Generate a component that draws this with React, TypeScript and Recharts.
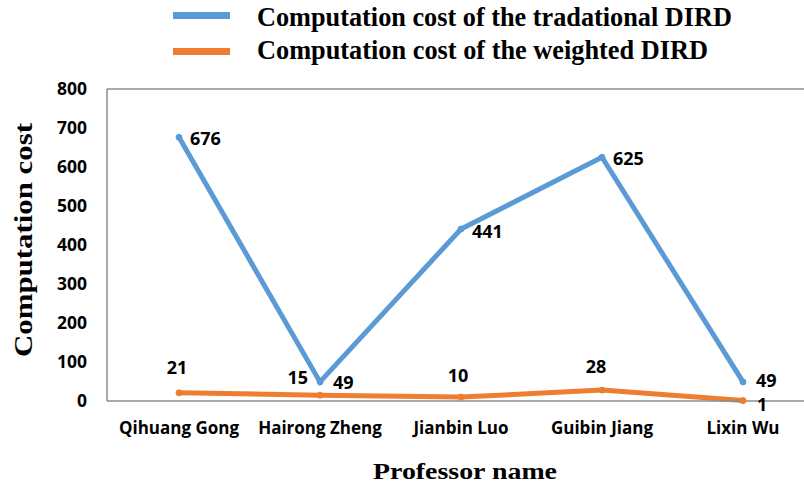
import React from 'react';
import { LineChart, Line, XAxis, YAxis, ReferenceLine } from 'recharts';

const professors = ['Qihuang Gong', 'Hairong Zheng', 'Jianbin Luo', 'Guibin Jiang', 'Lixin Wu'];
const traditionalCost = [676, 49, 441, 625, 49];
const weightedCost = [21, 15, 10, 28, 1];
const yTicks = [0, 100, 200, 300, 400, 500, 600, 700, 800];

const data = professors.map((name, i) => ({
  name,
  traditional: traditionalCost[i],
  weighted: weightedCost[i],
}));

const BLUE = '#5b9bd5';
const ORANGE = '#ed7d31';
const SANS = '"Open Sans", Lato, sans-serif';
const SERIF = '"Liberation Serif", "DejaVu Serif", serif';

// label nudges per point (dx, dy to baseline, anchor)
const blueLabelPos = [
  [11, 8, 'start'], [13, 7, 'start'], [11, 9, 'start'], [11, 8, 'start'], [13, 5, 'start'],
];
const orangeLabelPos = [
  [-2, -19, 'middle'], [-12, -11, 'end'], [-3, -15, 'middle'], [-6, -17, 'middle'], [14, 10, 'start'],
];

const makeLabel = (pos: any[]) => (props: any) => {
  const { x, y, value, index } = props;
  const [dx, dy, anchor] = pos[index];
  return (
    <text x={x + dx} y={y + dy} textAnchor={anchor} fontFamily={SANS} fontWeight={700} fontSize={18} fill="#000">
      {value}
    </text>
  );
};

const YLabel = () => {
  const cx = 32;
  const cy = 240;
  return (
    <text
      x={cx}
      y={cy}
      transform={`rotate(-90 ${cx} ${cy})`}
      textAnchor="middle"
      fontFamily={SERIF}
      fontWeight={700}
      fontSize={25}
      textLength={234}
      lengthAdjust="spacingAndGlyphs"
      fill="#000"
    >
      Computation cost
    </text>
  );
};

const XLabel = () => (
  <text
    x={465}
    y={479}
    textAnchor="middle"
    fontFamily={SERIF}
    fontWeight={700}
    fontSize={24}
    textLength={184}
    lengthAdjust="spacingAndGlyphs"
    fill="#000"
  >
    Professor name
  </text>
);

const legendItems = [
  { label: 'Computation cost of the tradational DIRD', color: BLUE, len: 475 },
  { label: 'Computation cost of the weighted DIRD', color: ORANGE, len: 451 },
];

export default function App() {
  return (
    <div style={{ position: 'fixed', left: 0, top: 0, width: 804, height: 484, overflow: 'hidden', background: '#fff' }}>
      <svg width={804} height={80} style={{ position: 'absolute', left: 0, top: 0 }}>
        {legendItems.map((item, i) => (
          <g key={item.label}>
            <rect x={173} y={12 + i * 36} width={57} height={7} fill={item.color} />
            <text
              x={257}
              y={26 + i * 33}
              fontFamily={SERIF}
              fontWeight={700}
              fontSize={27}
              textLength={item.len}
              lengthAdjust="spacingAndGlyphs"
              fill="#000"
            >
              {item.label}
            </text>
          </g>
        ))}
      </svg>
      <div style={{ position: 'absolute', left: 0, top: 0 }}>
        <LineChart width={830} height={484} data={data} margin={{ top: 89, right: 17, bottom: 0, left: 0 }}>
          <XAxis
            dataKey="name"
            height={83}
            padding={{ left: 72, right: 70 }}
            axisLine={{ stroke: '#8c8c8c', strokeWidth: 1.5 }}
            tickLine={false}
            tickSize={0}
            tickMargin={21}
            tick={{ fontFamily: SANS, fontWeight: 700, fontSize: 17, fill: '#000' }}
            interval={0}
            label={<XLabel />}
          />
          <YAxis
            width={107}
            domain={[0, 800]}
            ticks={yTicks}
            axisLine={{ stroke: '#8c8c8c', strokeWidth: 1.5 }}
            tickLine={false}
            tickSize={0}
            tickMargin={20}
            tick={{ fontFamily: SANS, fontWeight: 700, fontSize: 17.5, fill: '#000' }}
            label={<YLabel />}
          />
          <ReferenceLine y={800} stroke="#8c8c8c" strokeWidth={1.5} />
          <Line
            dataKey="traditional"
            stroke={BLUE}
            strokeWidth={5}
            dot={{ r: 3, fill: BLUE, stroke: BLUE, strokeWidth: 1 }}
            isAnimationActive={false}
            label={makeLabel(blueLabelPos)}
          />
          <Line
            dataKey="weighted"
            stroke={ORANGE}
            strokeWidth={5}
            dot={{ r: 3, fill: ORANGE, stroke: ORANGE, strokeWidth: 1 }}
            isAnimationActive={false}
            label={makeLabel(orangeLabelPos)}
          />
        </LineChart>
      </div>
    </div>
  );
}
